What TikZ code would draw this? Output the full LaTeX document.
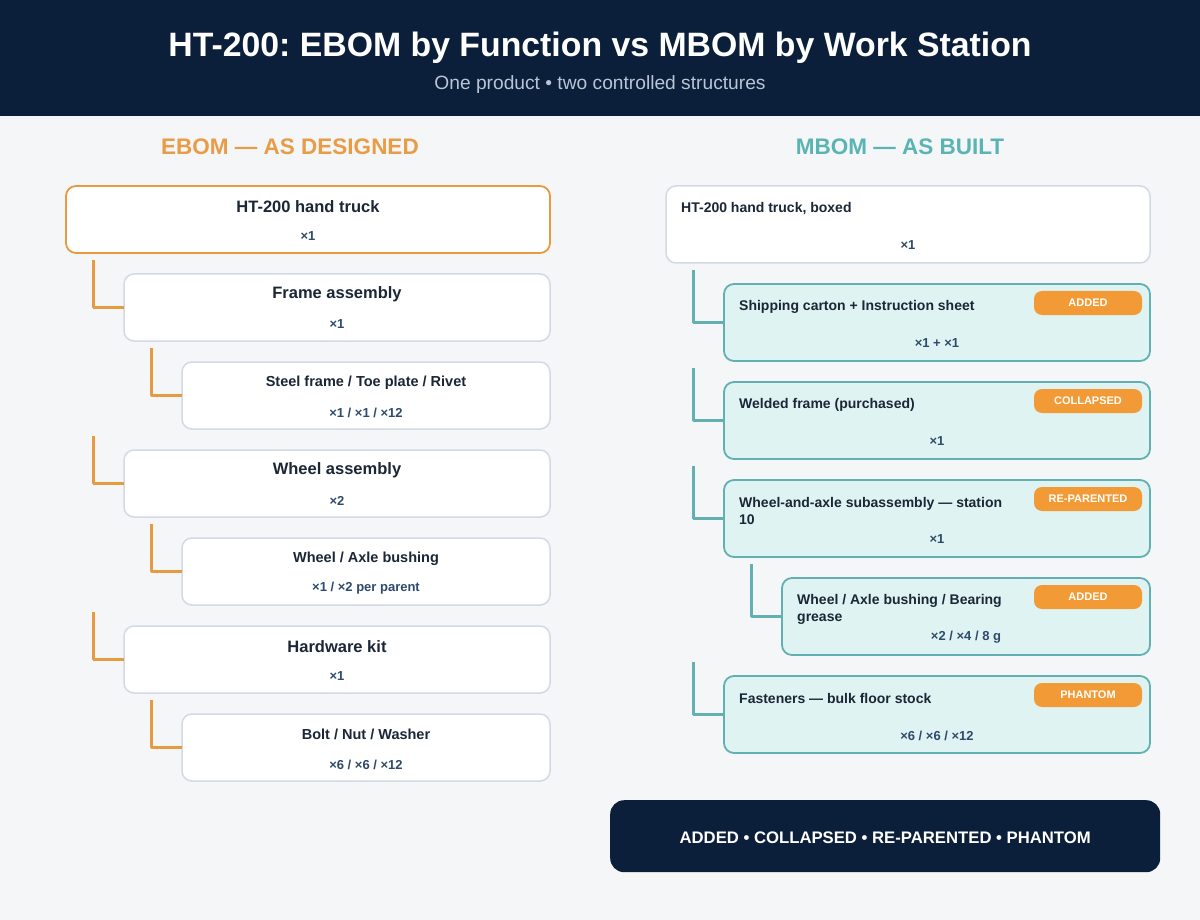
\documentclass[tikz,border=0pt]{standalone}
\usepackage{fontspec}
\setmainfont{Liberation Sans}
\usetikzlibrary{calc}
\frenchspacing
\definecolor{navy}{HTML}{0B1F3A}
\definecolor{bg}{HTML}{F4F6F8}
\definecolor{orgtitle}{HTML}{E89C46}
\definecolor{orgline}{HTML}{E89A40}
\definecolor{orgbadge}{HTML}{F29A35}
\definecolor{tealtitle}{HTML}{5BB4B4}
\definecolor{tealfill}{HTML}{DFF4F2}
\definecolor{tealbd}{HTML}{62B0B2}
\definecolor{graybd}{HTML}{D3DAE3}
\definecolor{txtdark}{HTML}{1B2636}
\definecolor{qtyc}{HTML}{2E4A6C}
\definecolor{subc}{HTML}{B9C5D5}
\begin{document}
\begin{tikzpicture}[x=1pt,y=-1pt,
  ebox/.style={draw=graybd, line width=1.5pt, fill=white, rounded corners=10pt, anchor=north west, inner sep=0pt, outer sep=0pt},
  eroot/.style={ebox, draw=orgline, line width=1.8pt},
  mbox/.style={draw=tealbd, line width=1.8pt, fill=tealfill, rounded corners=10pt, anchor=north west, inner sep=0pt, outer sep=0pt},
  mroot/.style={ebox},
  txt/.style={inner sep=0pt, yshift=-1.5pt},
  etitle/.style={txt, font=\fontsize{16.5}{19}\selectfont\bfseries, text=txtdark},
  esub/.style={txt, font=\fontsize{14.5}{17}\selectfont\bfseries, text=txtdark},
  mtitle/.style={txt, font=\fontsize{14}{17}\selectfont\bfseries, text=txtdark, anchor=west, align=left},
  qty/.style={txt, font=\fontsize{13}{15}\selectfont\bfseries, text=qtyc},
  badge/.style={fill=orgbadge, rounded corners=8pt, minimum width=108pt, minimum height=24pt, inner sep=0pt, text=white, font=\fontsize{11}{13}\selectfont\bfseries},
  econn/.style={draw=orgline, line width=3pt, line join=round},
  mconn/.style={draw=tealbd, line width=3pt, line join=round}
]
\useasboundingbox (0,0) rectangle (1200,920);
\fill[bg] (0,0) rectangle (1200,920);
\fill[navy] (0,0) rectangle (1200,116);
\node[txt, font=\fontsize{33.8}{38}\selectfont\bfseries, text=white, yshift=-2.5pt] (title) at (600,44) {HT-200: EBOM by Function vs MBOM by Work Station};
\node[txt, font=\fontsize{19.2}{22}\selectfont, text=subc] (subtitle) at (600,83) {One product • two controlled structures};
\node[txt, font=\fontsize{22.5}{26}\selectfont\bfseries, text=orgtitle] (ehead) at (290,145) {EBOM — AS DESIGNED};
\node[txt, font=\fontsize{22.5}{26}\selectfont\bfseries, text=tealtitle] (mhead) at (900,145) {MBOM — AS BUILT};

% EBOM
\node[eroot, minimum width=484pt, minimum height=67pt] (e1) at (66,186) {};
\node[etitle] (e1t) at (308,205) {HT-200 hand truck};
\node[qty] (e1q) at (308,235) {×1};

\node[ebox, minimum width=426pt, minimum height=67pt] (e2) at (124,274) {};
\node[etitle] (e2t) at (337,293) {Frame assembly};
\node[qty] (e2q) at (337,323) {×1};

\node[ebox, minimum width=368pt, minimum height=67pt] (e3) at (182,362) {};
\node[esub] (e3t) at (366,381) {Steel frame / Toe plate / Rivet};
\node[qty] (e3q) at (366,411) {×1 / ×1 / ×12};

\node[ebox, minimum width=426pt, minimum height=67pt] (e4) at (124,450) {};
\node[etitle] (e4t) at (337,469) {Wheel assembly};
\node[qty] (e4q) at (337,499) {×2};

\node[ebox, minimum width=368pt, minimum height=67pt] (e5) at (182,538) {};
\node[esub] (e5t) at (366,557) {Wheel / Axle bushing};
\node[qty] (e5q) at (366,587) {×1 / ×2 per parent};

\node[ebox, minimum width=426pt, minimum height=67pt] (e6) at (124,626) {};
\node[etitle] (e6t) at (337,645) {Hardware kit};
\node[qty] (e6q) at (337,675) {×1};

\node[ebox, minimum width=368pt, minimum height=67pt] (e7) at (182,714) {};
\node[esub] (e7t) at (366,733) {Bolt / Nut / Washer};
\node[qty] (e7q) at (366,763) {×6 / ×6 / ×12};

\foreach \n in {e2,e3,e4,e5,e6,e7}{
  \draw[econn] ($(\n.north west)+(-31,-14)$) |- (\n.west);
}

% MBOM
\node[mroot, minimum width=484pt, minimum height=77pt] (m1) at (666,186) {};
\node[mtitle] (m1t) at (681,207) {HT-200 hand truck, boxed};
\node[qty] (m1q) at (908,244) {×1};

\node[mbox, minimum width=426pt, minimum height=77pt] (m2) at (724,284) {};
\node[mtitle] (m2t) at (739,305) {Shipping carton + Instruction sheet};
\node[badge] (m2b) at (1088,303) {ADDED};
\node[qty] (m2q) at (937,342) {×1 + ×1};

\node[mbox, minimum width=426pt, minimum height=77pt] (m3) at (724,382) {};
\node[mtitle] (m3t) at (739,403) {Welded frame (purchased)};
\node[badge] (m3b) at (1088,401) {COLLAPSED};
\node[qty] (m3q) at (937,440) {×1};

\node[mbox, minimum width=426pt, minimum height=77pt] (m4) at (724,480) {};
\node[mtitle] (m4t) at (739,509.5) {Wheel-and-axle subassembly — station\\10};
\node[badge] (m4b) at (1088,499) {RE-PARENTED};
\node[qty] (m4q) at (937,538) {×1};

\node[mbox, minimum width=368pt, minimum height=77pt] (m5) at (782,578) {};
\node[mtitle] (m5t) at (797,607.5) {Wheel / Axle bushing / Bearing\\grease};
\node[badge] (m5b) at (1088,597) {ADDED};
\node[qty] (m5q) at (966,636) {×2 / ×4 / 8 g};

\node[mbox, minimum width=426pt, minimum height=77pt] (m6) at (724,676) {};
\node[mtitle] (m6t) at (739,697) {Fasteners — bulk floor stock};
\node[badge] (m6b) at (1088,695) {PHANTOM};
\node[qty] (m6q) at (937,734) {×6 / ×6 / ×12};

\foreach \n in {m2,m3,m4,m5,m6}{
  \draw[mconn] ($(\n.north west)+(-31,-14)$) |- (\n.west);
}

% Legend
\node[fill=navy, rounded corners=14pt, minimum width=550pt, minimum height=72pt, anchor=north west, inner sep=0pt] (leg) at (610,800) {};
\node[txt, font=\fontsize{16.7}{19}\selectfont\bfseries, text=white] (legt) at (leg.center) {ADDED • COLLAPSED • RE-PARENTED • PHANTOM};
\end{tikzpicture}
\end{document}
